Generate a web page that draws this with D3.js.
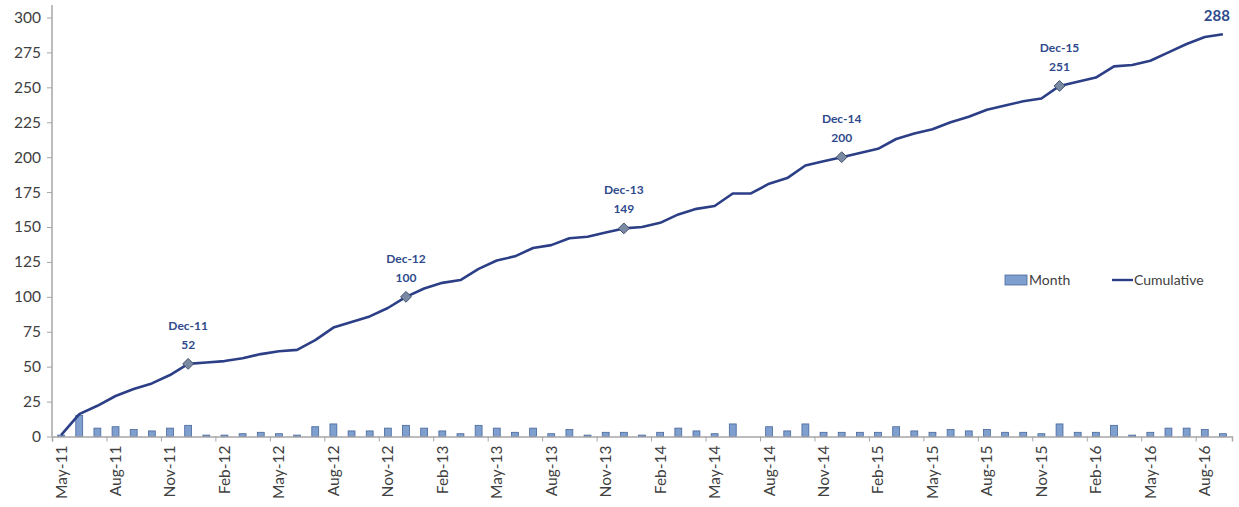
<!DOCTYPE html>
<html>
<head>
<meta charset="utf-8">
<script src="https://cdn.jsdelivr.net/npm/d3@7"></script>
<style>
  html, body { margin: 0; padding: 0; background: #fff; }
  svg { display: block; font-family: Lato, "Open Sans", sans-serif; }
</style>
</head>
<body>
<svg id="chart" width="1239" height="507"></svg>
<script>
// Months May-11 .. Sep-16
const monthNames = ["Jan","Feb","Mar","Apr","May","Jun","Jul","Aug","Sep","Oct","Nov","Dec"];
const months = [];
for (let yr = 2011, mo = 4; !(yr === 2016 && mo === 9); ) {
  months.push(monthNames[mo] + "-" + String(yr).slice(2));
  mo++; if (mo === 12) { mo = 0; yr++; }
}

// New items per month
const monthly = [
  1, 15, 6, 7, 5, 4, 6, 8,
  1, 1, 2, 3, 2, 1, 7, 9, 4, 4, 6, 8,
  6, 4, 2, 8, 6, 3, 6, 2, 5, 1, 3, 3,
  1, 3, 6, 4, 2, 9, 0, 7, 4, 9, 3, 3,
  3, 3, 7, 4, 3, 5, 4, 5, 3, 3, 2, 9,
  3, 3, 8, 1, 3, 6, 6, 5, 2
];

// Running total
const cumulative = [];
monthly.reduce((acc, v, i) => (cumulative[i] = acc + v), 0);

// Highlighted year-end points and tick settings
const highlights = ["Dec-11", "Dec-12", "Dec-13", "Dec-14", "Dec-15"];
const yTicks = [0, 25, 50, 75, 100, 125, 150, 175, 200, 225, 250, 275, 300];
const xLabelStep = 3;

const svg = d3.select("#chart");
const plotLeft = 52, plotRight = 1232, plotTop = 17.5, plotBottom = 436.5;

const x = d3.scaleBand().domain(months).range([plotLeft, plotRight]).paddingInner(0).paddingOuter(0);
const xi = d3.scaleLinear().domain([0, months.length]).range([plotLeft, plotRight]);
const y = d3.scaleLinear().domain([0, 300]).range([plotBottom, plotTop]);

const axisColor = "#a6a6a6";
const textColor = "#404040";
const navy = "#2c3f86";
const labelBlue = "#2f4a8c";

// Bars
const bw = x.bandwidth() * 0.38;
svg.append("g").selectAll("rect").data(monthly).join("rect")
  .attr("x", (d, i) => x(months[i]) + x.bandwidth() / 2 - bw / 2)
  .attr("y", d => y(d))
  .attr("width", bw)
  .attr("height", d => Math.max(0, y(0) - y(d)))
  .attr("fill", "#7f9fcf")
  .attr("stroke", "#47679a")
  .attr("stroke-width", 0.8);

// Y axis
const yAxis = svg.append("g").attr("transform", `translate(${plotLeft},0)`)
  .call(d3.axisLeft(y).tickValues(yTicks).tickSize(5).tickPadding(6));
yAxis.select(".domain").remove();
yAxis.append("line").attr("x1", 0).attr("x2", 0).attr("y1", 5).attr("y2", plotBottom)
  .attr("stroke", axisColor).attr("stroke-width", 1.5);
yAxis.selectAll(".tick line").attr("stroke", axisColor);
yAxis.selectAll(".tick text").attr("fill", textColor).style("font-size", "15.5px")
  .style("font-family", "Lato, 'Open Sans', sans-serif");

// X axis: tick marks at quarter boundaries
const xTicks = d3.range(0, months.length + 1, xLabelStep);
const xAxis = svg.append("g").attr("transform", `translate(0,${plotBottom})`)
  .call(d3.axisBottom(xi).tickValues(xTicks).tickSize(5).tickFormat(""));
xAxis.select(".domain").attr("stroke", axisColor).attr("stroke-width", 1.5);
xAxis.selectAll(".tick line").attr("stroke", axisColor);

// X labels every third month, rotated
const xLab = svg.append("g").attr("transform", `translate(0,${plotBottom})`)
  .call(d3.axisBottom(x).tickValues(months.filter((m, i) => i % xLabelStep === 0)).tickSize(0).tickPadding(0));
xLab.select(".domain").remove();
xLab.selectAll(".tick text")
  .attr("transform", "rotate(-90)")
  .attr("x", -9).attr("y", 0).attr("dy", "0.35em")
  .style("text-anchor", "end")
  .attr("fill", textColor)
  .style("font-size", "15.5px")
  .style("font-family", "Lato, 'Open Sans', sans-serif");

// Cumulative line
const cx = (d, i) => x(months[i]) + x.bandwidth() / 2;
svg.append("path").datum(cumulative)
  .attr("fill", "none").attr("stroke", navy).attr("stroke-width", 2.6)
  .attr("stroke-linejoin", "round")
  .attr("d", d3.line().x(cx).y(d => y(d)));

// Year-end markers with labels
const hl = highlights.map(m => ({ m, i: months.indexOf(m) }));
const g = svg.append("g");
g.selectAll("path.mk").data(hl).join("path")
  .attr("class", "mk")
  .attr("d", d3.symbol(d3.symbolDiamond2, 75))
  .attr("transform", d => `translate(${cx(null, d.i)},${y(cumulative[d.i])})`)
  .attr("fill", "#7b8aa3").attr("stroke", "#44536f").attr("stroke-width", 1);
g.selectAll("text.nm").data(hl).join("text")
  .attr("x", d => cx(null, d.i)).attr("y", d => y(cumulative[d.i]) - 34)
  .attr("text-anchor", "middle").attr("fill", labelBlue)
  .style("font-size", "12px").style("font-weight", "bold")
  .text(d => d.m);
g.selectAll("text.vl").data(hl).join("text")
  .attr("x", d => cx(null, d.i)).attr("y", d => y(cumulative[d.i]) - 15)
  .attr("text-anchor", "middle").attr("fill", labelBlue)
  .style("font-size", "12px").style("font-weight", "bold")
  .text(d => cumulative[d.i]);

// Final total
const last = cumulative.length - 1;
svg.append("text")
  .attr("x", cx(null, last) - 6).attr("y", y(cumulative[last]) - 13)
  .attr("text-anchor", "middle").attr("fill", labelBlue)
  .style("font-size", "15px").style("font-weight", "bold")
  .text(cumulative[last]);

// Legend
const lg = svg.append("g").attr("transform", "translate(1005,280)");
lg.append("rect").attr("x", 0).attr("y", -5).attr("width", 22).attr("height", 10)
  .attr("fill", "#7f9fcf").attr("stroke", "#47679a").attr("stroke-width", 0.8);
lg.append("text").attr("x", 24).attr("y", 0).attr("dy", "0.35em")
  .attr("fill", textColor).style("font-size", "14px").text("Month");
lg.append("line").attr("x1", 107).attr("x2", 128).attr("y1", 0).attr("y2", 0)
  .attr("stroke", navy).attr("stroke-width", 2.4);
lg.append("text").attr("x", 129).attr("y", 0).attr("dy", "0.35em")
  .attr("fill", textColor).style("font-size", "14px").text("Cumulative");
</script>
</body>
</html>
